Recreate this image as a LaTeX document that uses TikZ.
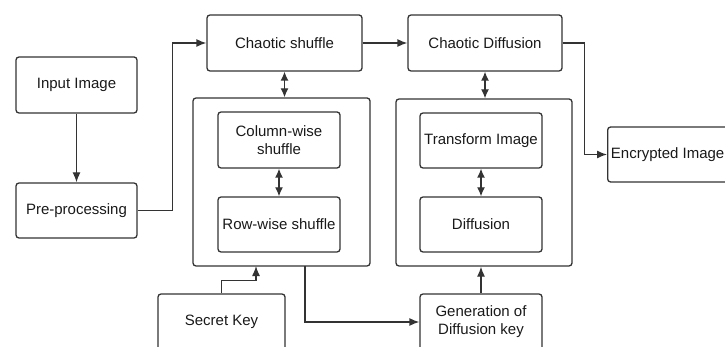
\documentclass[tikz,border=0pt]{standalone}
\usepackage{fontspec}
\setmainfont{Liberation Sans}
\usetikzlibrary{arrows.meta}

\begin{document}
\begin{tikzpicture}
  [x=1pt,y=-1pt,line width=1.3pt,color=black!80,
   every node/.style={rectangle,draw,rounded corners=3pt,inner sep=0pt,
     text=black!90,align=center,font=\fontsize{15}{18}\selectfont},
   arr/.style={-{Latex[length=10pt,width=8pt]}},
   darr/.style={{Latex[length=9pt,width=8pt]}-{Latex[length=9pt,width=8pt]}}]
  \useasboundingbox (0,0) rectangle (725,347);
  \clip (0,0) rectangle (725,347);

  \node[minimum width=121pt,minimum height=56pt] (inimg) at (76.5,85) {Input Image};
  \node[minimum width=121pt,minimum height=55pt] (prep) at (76.5,210.5) {Pre-processing};
  \node[minimum width=155pt,minimum height=56pt] (cshuf) at (284.5,43) {Chaotic shuffle};
  \node[minimum width=154pt,minimum height=56pt] (cdiff) at (485,43) {Chaotic Diffusion};

  \node[minimum width=177pt,minimum height=168pt] (box1) at (281.5,182) {};
  \node[minimum width=122pt,minimum height=56pt] (colw) at (279,140) {Column-wise\\shuffle};
  \node[minimum width=122pt,minimum height=55pt] (roww) at (279,224.5) {Row-wise shuffle};

  \node[minimum width=176pt,minimum height=167pt] (box2) at (484,182.5) {};
  \node[minimum width=122pt,minimum height=55pt] (trans) at (481,140.5) {Transform Image};
  \node[minimum width=122pt,minimum height=55pt] (diff) at (481,224.5) {Diffusion};

  \node[minimum width=127pt,minimum height=56pt] (skey) at (221.5,322) {Secret Key};
  \node[minimum width=122pt,minimum height=56pt] (gen) at (481,322) {Generation of\\Diffusion key};
  \node[minimum width=130pt,minimum height=55pt,anchor=west] (enc) at (607,154.5) {\hspace*{-10pt}Encrypted Image};

  \coordinate (keyin) at (256,266);
  \coordinate (mixout) at (305,266);

  \draw[arr] (inimg) -- (prep);
  \draw[arr] (prep.east) -- ++(35,0) |- (cshuf.west);
  \draw[arr] (cshuf) -- (cdiff);
  \draw[darr] (cshuf.south) -- (cshuf.south |- box1.north);
  \draw[darr] (colw) -- (roww);
  \draw[darr] (cdiff.south) -- (cdiff.south |- box2.north);
  \draw[darr] (trans) -- (diff);
  \draw[arr] (cdiff.east) -- ++(22,0) |- (enc.west);
  \draw[arr] (skey.north) -- ++(0,-13) -| (keyin);
  \draw[arr] (mixout) |- (gen.west);
  \draw[arr] (gen.north) -- (gen.north |- box2.south);

\end{tikzpicture}
\end{document}
